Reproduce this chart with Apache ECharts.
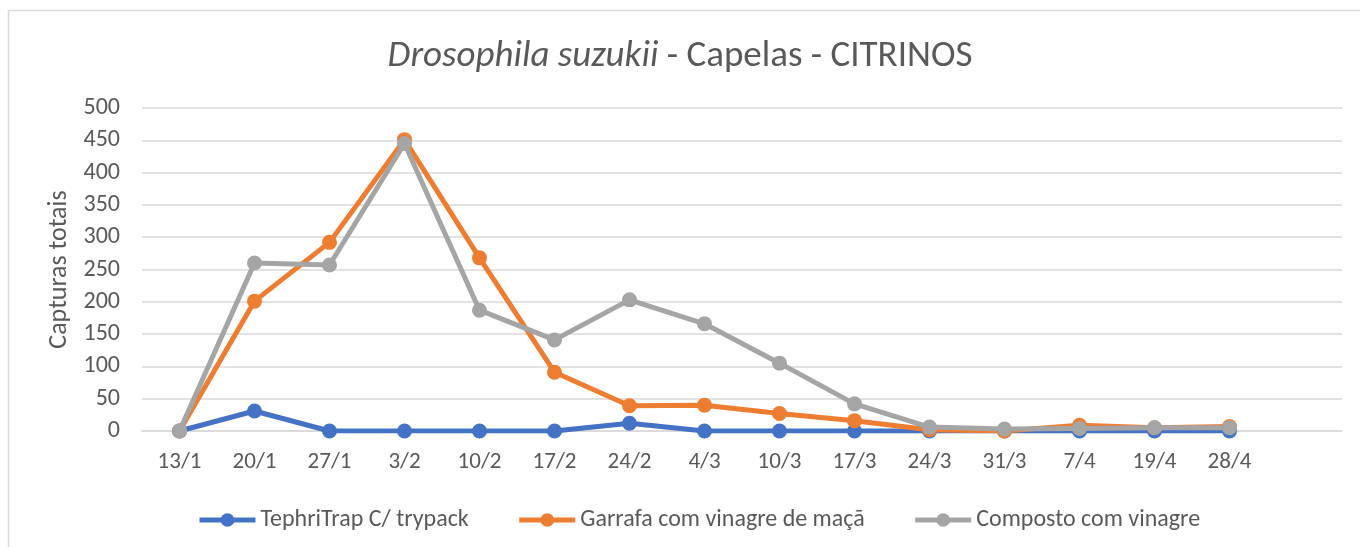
<!DOCTYPE html>
<html><head><meta charset="utf-8">
<script src="https://cdn.jsdelivr.net/npm/echarts@6/dist/echarts.min.js"></script>
<style>html,body{margin:0;padding:0;background:#fff}#c{width:1360px;height:547px}</style>
</head><body><div id="c"></div>
<script>
const categories = ['13/1','20/1','27/1','3/2','10/2','17/2','24/2','4/3','10/3','17/3','24/3','31/3','7/4','19/4','28/4',''];
const tephriTrap = [0,31,0,0,0,0,12,0,0,0,0,0,0,0,0];
const garrafa = [0,201,292,451,268,91,39,40,27,16,2,0,9,5,7];
const composto = [0,260,257,445,187,141,203,166,105,42,6,3,4,5,5];
const yTicks = [0,500,50];
const seriesNames = ['TephriTrap C/ trypack','Garrafa com vinagre de maçã','Composto com vinagre'];
const colors = ['#4472C4','#ED7D31','#A5A5A5'];
const FONT = "Carlito, 'Liberation Sans Narrow', 'Noto Sans', sans-serif";
const chart = echarts.init(document.getElementById('c'));
const mk = (name, data, color, z) => ({
  name, type:'line', data, z,
  symbol:'circle', symbolSize:15,
  lineStyle:{width:5,color}, itemStyle:{color},
  emphasis:{disabled:true}
});
chart.setOption({
  animation:false,
  textStyle:{fontFamily:FONT},
  title:{
    text:'{i|Drosophila suzukii} - Capelas - CITRINOS',
    left:'center', top:33,
    textStyle:{fontSize:37,color:'#595959',fontWeight:'normal',fontFamily:FONT,
      rich:{i:{fontStyle:'italic',fontSize:37,color:'#595959',fontFamily:FONT}}}
  },
  graphic:[{type:'rect',shape:{x:8.5,y:10.5,width:1400,height:600},style:{fill:'none',stroke:'#d9d9d9',lineWidth:1.5},silent:true}],
  grid:{left:142,right:18,top:108,bottom:116},
  legend:{
    top:503, left:192, itemWidth:56, itemHeight:17, itemGap:48,
    lineStyle:{width:5},
    textStyle:{fontSize:24,color:'#595959',fontFamily:FONT},
    data:seriesNames
  },
  xAxis:{
    type:'category', data:categories, boundaryGap:true,
    axisLine:{lineStyle:{color:'#d9d9d9',width:1.5}},
    axisTick:{show:false},
    axisLabel:{fontSize:23,color:'#595959',margin:20,fontFamily:FONT}
  },
  yAxis:{
    type:'value', min:yTicks[0], max:yTicks[1], interval:yTicks[2],
    name:'Capturas totais', nameLocation:'middle', nameGap:66,
    nameTextStyle:{fontSize:26,color:'#595959',fontFamily:FONT},
    axisLine:{show:false}, axisTick:{show:false},
    axisLabel:{fontSize:24,color:'#595959',margin:22,fontFamily:FONT},
    splitLine:{lineStyle:{color:'#d9d9d9',width:1.5}}
  },
  series:[
    mk(seriesNames[0], tephriTrap, colors[0], 2),
    mk(seriesNames[1], garrafa, colors[1], 3),
    mk(seriesNames[2], composto, colors[2], 4)
  ]
});
</script></body></html>
